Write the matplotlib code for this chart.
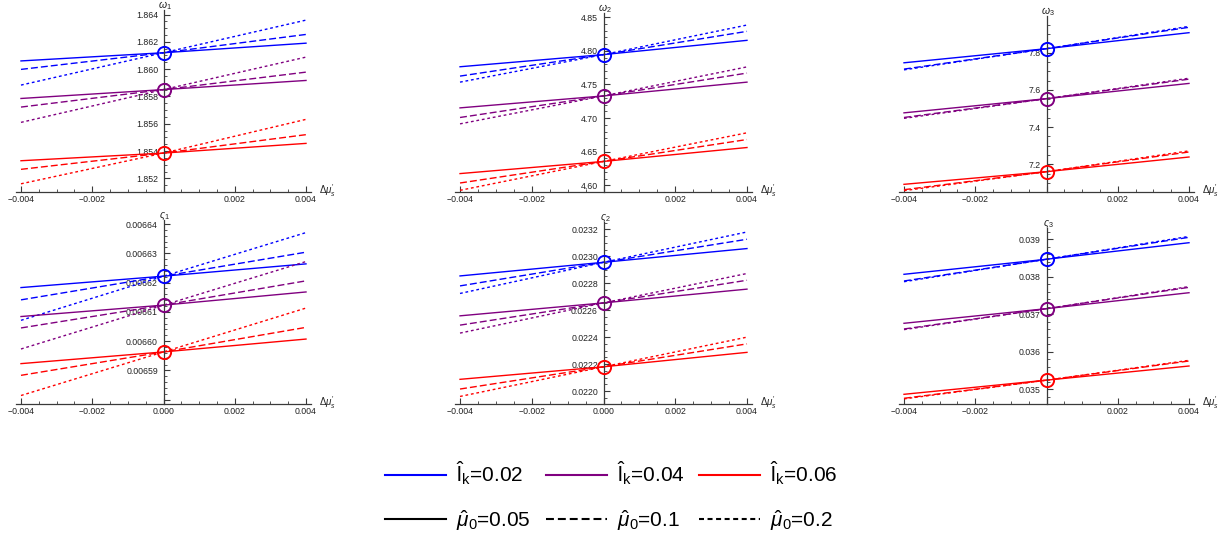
import matplotlib
matplotlib.use("Agg")
import matplotlib.pyplot as plt
from matplotlib.lines import Line2D
from matplotlib.ticker import MultipleLocator, FuncFormatter

plt.rcParams['font.family'] = ['Liberation Sans', 'DejaVu Sans']
plt.rcParams['mathtext.fontset'] = 'custom'
plt.rcParams['mathtext.rm'] = 'Liberation Sans'
plt.rcParams['mathtext.it'] = 'Liberation Sans:italic'
plt.rcParams['mathtext.bf'] = 'Liberation Sans:bold'

# ---------------- data ----------------
x_vals = [-0.004, 0.0, 0.004]
color_names = ['blue', 'purple', 'red']
lk_labels = ['0.02', '0.04', '0.06']
mu0_labels = ['0.05', '0.1', '0.2']

# rows: mu0 = 0.05 (solid), 0.1 (dashed), 0.2 (dotted); values at x = -0.004, 0, 0.004
omega1_blue = [[1.8606, 1.86120, 1.8619], [1.85998, 1.86120, 1.86254], [1.85883, 1.86120, 1.86359]]
omega1_purple = [[1.85785, 1.85850, 1.85917], [1.85722, 1.85850, 1.85978], [1.8561, 1.85850, 1.86088]]
omega1_red = [[1.85329, 1.85385, 1.85456], [1.85266, 1.85385, 1.8552], [1.8516, 1.85385, 1.85632]]

omega2_blue = [[4.7764, 4.7945, 4.8157], [4.7625, 4.7945, 4.8291], [4.7535, 4.7945, 4.8385]]
omega2_purple = [[4.7152, 4.7330, 4.7535], [4.7009, 4.7330, 4.767], [4.6914, 4.7330, 4.7762]]
omega2_red = [[4.6174, 4.6355, 4.6562], [4.6034, 4.6355, 4.6681], [4.5925, 4.6355, 4.6781]]

omega3_blue = [[7.746, 7.822, 7.908], [7.712, 7.822, 7.937], [7.708, 7.822, 7.942]]
omega3_purple = [[7.4766, 7.553, 7.635], [7.4517, 7.553, 7.658], [7.447, 7.553, 7.663]]
omega3_red = [[7.092, 7.160, 7.239], [7.063, 7.160, 7.266], [7.058, 7.160, 7.272]]

sigma1_blue = [[0.0066183, 0.0066222, 0.0066264], [0.0066141, 0.0066222, 0.0066304], [0.0066071, 0.0066222, 0.0066371]]
sigma1_purple = [[0.0066084, 0.0066123, 0.0066168], [0.0066045, 0.0066123, 0.0066206], [0.0065973, 0.0066123, 0.0066272]]
sigma1_red = [[0.0065923, 0.0065963, 0.0066007], [0.0065883, 0.0065963, 0.0066047], [0.0065814, 0.0065963, 0.0066113]]

sigma2_blue = [[0.022854, 0.022955, 0.023057], [0.02278, 0.022955, 0.023126], [0.022724, 0.022955, 0.02318]]
sigma2_purple = [[0.022558, 0.022654, 0.022756], [0.022489, 0.022654, 0.022822], [0.02243, 0.022654, 0.022872]]
sigma2_red = [[0.022087, 0.022180, 0.022287], [0.022015, 0.022180, 0.02235], [0.02196, 0.022180, 0.0224]]

sigma3_blue = [[0.038068, 0.03847, 0.038912], [0.037889, 0.03847, 0.039056], [0.03787, 0.03847, 0.03908]]
sigma3_purple = [[0.036759, 0.03715, 0.037576], [0.036607, 0.03715, 0.03772], [0.03659, 0.03715, 0.03774]]
sigma3_red = [[0.034862, 0.03524, 0.035618], [0.034755, 0.03524, 0.035752], [0.03474, 0.03524, 0.03577]]

panel_labels = [r'$\omega_1$', r'$\omega_2$', r'$\omega_3$',
                r'$\varsigma_1$', r'$\varsigma_2$', r'$\varsigma_3$']

# ---------------- style ----------------
W, H = 1223, 535
colors = {'blue': (0, 0, 1), 'purple': (0.5, 0, 0.5), 'red': (1, 0, 0)}
dash_styles = [None, (5, 2.2), (2, 2)]
axis_col = '#3a3a3a'

fig = plt.figure(figsize=(W / 100, H / 100), dpi=100)

panels = [
    dict(data=[omega1_blue, omega1_purple, omega1_red], box=(16, 311, 10, 192),
         ylim=(1.85100, 1.86433), major=0.002, minor=0.0005, fmt='%.3f', zero=False),
    dict(data=[omega2_blue, omega2_purple, omega2_red], box=(455, 752, 13, 192),
         ylim=(4.5900, 4.8564), major=0.05, minor=0.01, fmt='%.2f', zero=False),
    dict(data=[omega3_blue, omega3_purple, omega3_red], box=(899, 1194, 16, 192),
         ylim=(7.0507, 7.9978), major=0.2, minor=0.05, fmt='%.1f', zero=False),
    dict(data=[sigma1_blue, sigma1_purple, sigma1_red], box=(16, 311, 220, 404),
         ylim=(0.0065785, 0.0066414), major=0.00001, minor=0.000002, fmt='%.5f', zero=True),
    dict(data=[sigma2_blue, sigma2_purple, sigma2_red], box=(455, 752, 222, 404),
         ylim=(0.021904, 0.023254), major=0.0002, minor=0.00005, fmt='%.4f', zero=True),
    dict(data=[sigma3_blue, sigma3_purple, sigma3_red], box=(899, 1194, 228, 404),
         ylim=(0.034603, 0.039305), major=0.001, minor=0.0002, fmt='%.3f', zero=False),
]

for i, p in enumerate(panels):
    x0, x1, y0, y1 = p['box']
    ax = fig.add_axes([x0 / W, 1 - y1 / H, (x1 - x0) / W, (y1 - y0) / H])
    ax.patch.set_alpha(0)
    for cname, series in zip(color_names, p['data']):
        col = colors[cname]
        for k, vals in enumerate(series):
            ln, = ax.plot(x_vals, vals, color=col, lw=1.0, zorder=2)
            if dash_styles[k] is not None:
                ln.set_dashes(dash_styles[k])
        ax.plot([x_vals[1]], [series[0][1]], marker='o', ms=9.5, mfc='none',
                mec=col, mew=1.4, zorder=4, clip_on=False)
    ax.set_xlim(-0.00414, 0.00414)
    ax.set_ylim(*p['ylim'])
    for s in ['top', 'right']:
        ax.spines[s].set_visible(False)
    ax.spines['left'].set_position(('data', 0))
    ax.spines['left'].set_color(axis_col)
    ax.spines['bottom'].set_color(axis_col)
    ax.spines['left'].set_linewidth(0.9)
    ax.spines['bottom'].set_linewidth(0.9)
    ax.set_zorder(1)
    ax.xaxis.set_major_locator(MultipleLocator(0.002))
    ax.xaxis.set_minor_locator(MultipleLocator(0.0005))
    show_zero = p['zero']
    ax.xaxis.set_major_formatter(FuncFormatter(
        lambda v, pos, sz=show_zero: ('0.000' if sz else '') if abs(v) < 1e-9
        else ('%.3f' % v).replace('-', '\u2212')))
    ax.yaxis.set_major_locator(MultipleLocator(p['major']))
    ax.yaxis.set_minor_locator(MultipleLocator(p['minor']))
    lo = p['ylim'][0]
    ax.yaxis.set_major_formatter(FuncFormatter(
        lambda v, pos, f=p['fmt'], lo=lo, m=p['major']: '' if v < lo + 0.17 * m else f % v))
    ax.tick_params(axis='both', which='major', direction='in', length=4, width=0.8,
                   color=axis_col, labelsize=6.3, labelcolor='#222222', pad=2.5)
    ax.tick_params(axis='both', which='minor', direction='in', length=2.3, width=0.6,
                   color=axis_col)
    ax.tick_params(axis='y', which='major', pad=4)
    # axis labels
    ax.annotate(panel_labels[i], xy=(0, 1), xycoords=('data', 'axes fraction'),
                xytext=(1, 3), textcoords='offset points', ha='center', va='center',
                fontsize=7.5, color='#222222')
    ax.annotate(r"$\Delta\mu^{\prime}_{s}$", xy=(1, 0), xycoords='axes fraction',
                xytext=(6, 1), textcoords='offset points', ha='left', va='center',
                fontsize=7, color='#222222')

# ---------------- legend ----------------
handles = []
labels = []
legend_dashes = [None, (3.8, 1.9), (2.4, 1.7)]
for j in range(3):
    h1 = Line2D([0], [0], color=colors[color_names[j]], lw=1.5)
    h2 = Line2D([0], [0], color='black', lw=1.5)
    if legend_dashes[j] is not None:
        h2.set_dashes(legend_dashes[j])
    handles += [h1, h2]
    labels += [r'$\hat{\mathrm{l}}_\mathrm{k}$=' + lk_labels[j],
               r'$\hat{\mu}_0$=' + mu0_labels[j]]

fig.legend(handles, labels, ncol=3, loc='center', bbox_to_anchor=(0.5, 0.073),
           frameon=False, fontsize=15, handlelength=2.93, handletextpad=0.48,
           columnspacing=0.7, labelspacing=1.0)

fig.savefig('out.png', dpi=100)
